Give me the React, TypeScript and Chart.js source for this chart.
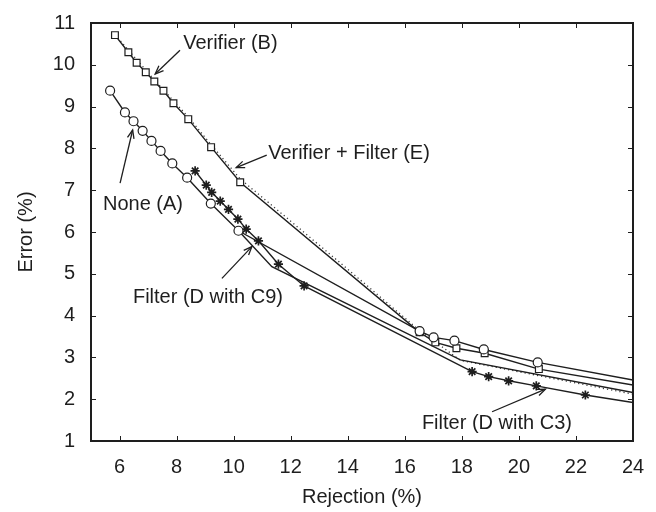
import React, { useEffect, useRef } from "react";
import { Chart, registerables } from "chart.js";

Chart.register(...registerables);

// ---- Data ----
const noneX = [5.67, 6.19, 6.49, 6.81, 7.12, 7.44, 7.85, 8.37, 9.2, 10.17, 16.52, 17.01, 17.74, 18.77, 20.66, 24];
const noneY = [9.38, 8.86, 8.65, 8.42, 8.18, 7.94, 7.64, 7.3, 6.68, 6.03, 3.63, 3.48, 3.4, 3.19, 2.88, 2.46];

const verifierX = [5.84, 6.31, 6.6, 6.92, 7.22, 7.54, 7.89, 8.41, 9.21, 10.23, 16.52, 17.07, 17.81, 18.8, 20.7, 24];
const verifierY = [10.71, 10.3, 10.05, 9.82, 9.6, 9.38, 9.08, 8.7, 8.03, 7.19, 3.6, 3.36, 3.22, 3.1, 2.72, 2.34];

const verFilterX = [5.84, 7.22, 8.41, 9.21, 10.23, 12, 14, 16.45, 17.95, 24];
const verFilterY = [10.72, 9.64, 8.75, 8.09, 7.27, 6.26, 5.11, 3.68, 2.93, 2.12];

const filterC9X = [10.17, 11.34, 17.95, 24];
const filterC9Y = [6.03, 5.17, 2.94, 2.16];

const filterC3X = [8.65, 9.04, 9.23, 9.53, 9.82, 10.15, 10.44, 10.87, 11.57, 12.47, 18.36, 18.94, 19.64, 20.61, 22.33, 24];
const filterC3Y = [7.46, 7.12, 6.95, 6.74, 6.54, 6.31, 6.07, 5.79, 5.23, 4.71, 2.66, 2.54, 2.44, 2.32, 2.1, 1.92];

const xTickValues = [6, 8, 10, 12, 14, 16, 18, 20, 22, 24];
const yTickValues = [1, 2, 3, 4, 5, 6, 7, 8, 9, 10, 11];

// Annotations (data units)
const labelTexts = ["Verifier (B)", "Verifier + Filter (E)", "None (A)", "Filter (D with C9)", "Filter (D with C3)"];
const labelX = [8.23, 11.21, 5.42, 6.47, 16.6];
const labelY = [10.52, 7.89, 6.67, 4.44, 1.43];
const arrowFromX = [8.12, 11.16, 6.02, 9.59, 19.06];
const arrowFromY = [10.35, 7.84, 7.17, 4.89, 1.7];
const arrowToX = [7.25, 10.09, 6.46, 10.64, 20.93];
const arrowToY = [9.78, 7.54, 8.44, 5.65, 2.24];

const INK = "#1e1e1e";
const FONT_FAMILY = "'Liberation Sans', Arial, Helvetica, sans-serif";

const toPoints = (xs: number[], ys: number[]) => xs.map((x, i) => ({ x, y: ys[i] }));
const radii = (xs: number[], r: number) => xs.map((x) => (x >= 24 ? 0 : r));

const framePlugin = {
  id: "frameAndNotes",
  afterDatasetsDraw(chart: any) {
    const { ctx, chartArea } = chart;
    const xs = chart.scales.x;
    const ys = chart.scales.y;
    const { left, right, top, bottom } = chartArea;
    ctx.save();
    // ticks inward on all four sides
    ctx.strokeStyle = INK;
    ctx.lineWidth = 1;
    const tl = 5;
    ctx.beginPath();
    xTickValues.forEach((v) => {
      const px = Math.round(xs.getPixelForValue(v)) + 0.5;
      ctx.moveTo(px, bottom);
      ctx.lineTo(px, bottom - tl);
      ctx.moveTo(px, top);
      ctx.lineTo(px, top + tl);
    });
    yTickValues.forEach((v) => {
      const py = Math.round(ys.getPixelForValue(v)) + 0.5;
      ctx.moveTo(left, py);
      ctx.lineTo(left + tl, py);
      ctx.moveTo(right, py);
      ctx.lineTo(right - tl, py);
    });
    ctx.stroke();
    // frame
    ctx.lineWidth = 2;
    ctx.strokeRect(left, top, right - left, bottom - top);

    // annotations
    ctx.fillStyle = INK;
    ctx.font = `20px ${FONT_FAMILY}`;
    ctx.textAlign = "left";
    ctx.textBaseline = "middle";
    labelTexts.forEach((t, i) => {
      ctx.fillText(t, xs.getPixelForValue(labelX[i]), ys.getPixelForValue(labelY[i]));
    });
    ctx.lineWidth = 1.3;
    labelTexts.forEach((_, i) => {
      const x1 = xs.getPixelForValue(arrowFromX[i]);
      const y1 = ys.getPixelForValue(arrowFromY[i]);
      const x2 = xs.getPixelForValue(arrowToX[i]);
      const y2 = ys.getPixelForValue(arrowToY[i]);
      ctx.beginPath();
      ctx.moveTo(x1, y1);
      ctx.lineTo(x2, y2);
      ctx.stroke();
      const ang = Math.atan2(y2 - y1, x2 - x1);
      const hl = 9;
      const hw = 0.38;
      ctx.beginPath();
      ctx.moveTo(x2 - hl * Math.cos(ang - hw), y2 - hl * Math.sin(ang - hw));
      ctx.lineTo(x2, y2);
      ctx.lineTo(x2 - hl * Math.cos(ang + hw), y2 - hl * Math.sin(ang + hw));
      ctx.stroke();
    });
    ctx.restore();
  },
};

export default function App() {
  const canvasRef = useRef<HTMLCanvasElement | null>(null);

  useEffect(() => {
    if (!canvasRef.current) return;
    const font = { family: FONT_FAMILY, size: 20 };
    const chart = new Chart(canvasRef.current, {
      type: "scatter",
      data: {
        datasets: [
          {
            label: "None (A)",
            data: toPoints(noneX, noneY),
            showLine: true,
            borderColor: INK,
            borderWidth: 1.4,
            pointStyle: "circle",
            pointRadius: radii(noneX, 4.5),
            pointBorderWidth: 1.2,
            pointBorderColor: INK,
            pointBackgroundColor: "#ffffff",
          },
          {
            label: "Verifier (B)",
            data: toPoints(verifierX, verifierY),
            showLine: true,
            borderColor: INK,
            borderWidth: 1.4,
            pointStyle: "rect",
            pointRadius: radii(verifierX, 4.8),
            pointBorderWidth: 1.2,
            pointBorderColor: INK,
            pointBackgroundColor: "#ffffff",
          },
          {
            label: "Filter (D with C3)",
            data: toPoints(filterC3X, filterC3Y),
            showLine: true,
            borderColor: INK,
            borderWidth: 1.4,
            pointStyle: "star",
            pointRadius: radii(filterC3X, 4.6),
            pointBorderWidth: 1.7,
            pointBorderColor: INK,
            pointBackgroundColor: INK,
          },
          {
            label: "Filter (D with C9)",
            data: toPoints(filterC9X, filterC9Y),
            showLine: true,
            borderColor: INK,
            borderWidth: 1.4,
            pointRadius: 0,
          },
          {
            label: "Verifier + Filter (E)",
            data: toPoints(verFilterX, verFilterY),
            showLine: true,
            borderColor: "#3a3a3a",
            borderWidth: 1.3,
            borderDash: [1.2, 3],
            pointRadius: 0,
          },
        ],
      },
      options: {
        responsive: false,
        animation: false,
        devicePixelRatio: 1,
        events: [],
        layout: { padding: { top: 23, right: 23, left: 0, bottom: 0 } },
        plugins: {
          legend: { display: false },
          tooltip: { enabled: false },
        },
        scales: {
          x: {
            type: "linear",
            min: 5,
            max: 24,
            afterBuildTicks: (axis: any) => {
              axis.ticks = xTickValues.map((v) => ({ value: v }));
            },
            afterFit: (s: any) => {
              s.height = 71;
              s.paddingLeft = 0;
              s.paddingRight = 0;
            },
            grid: { display: false, drawTicks: false },
            border: { display: false },
            ticks: { color: INK, font, padding: 14, maxRotation: 0, autoSkip: false },
            title: {
              display: true,
              text: "Rejection (%)",
              color: INK,
              font,
              padding: { top: 0, bottom: 3 },
            },
          },
          y: {
            type: "linear",
            min: 1,
            max: 11,
            afterBuildTicks: (axis: any) => {
              axis.ticks = yTickValues.map((v) => ({ value: v }));
            },
            afterFit: (s: any) => {
              s.width = 91;
              s.paddingTop = 0;
              s.paddingBottom = 0;
            },
            grid: { display: false, drawTicks: false },
            border: { display: false },
            ticks: { color: INK, font, padding: 16, autoSkip: false },
            title: {
              display: true,
              text: "Error (%)",
              color: INK,
              font,
              padding: { top: 14, bottom: 0 },
            },
          },
        },
      },
      plugins: [framePlugin],
    } as any);
    return () => chart.destroy();
  }, []);

  return (
    <div style={{ position: "absolute", left: 0, top: 0, width: 656, height: 512, background: "#ffffff" }}>
      <canvas ref={canvasRef} width={656} height={512} style={{ display: "block" }} />
    </div>
  );
}
